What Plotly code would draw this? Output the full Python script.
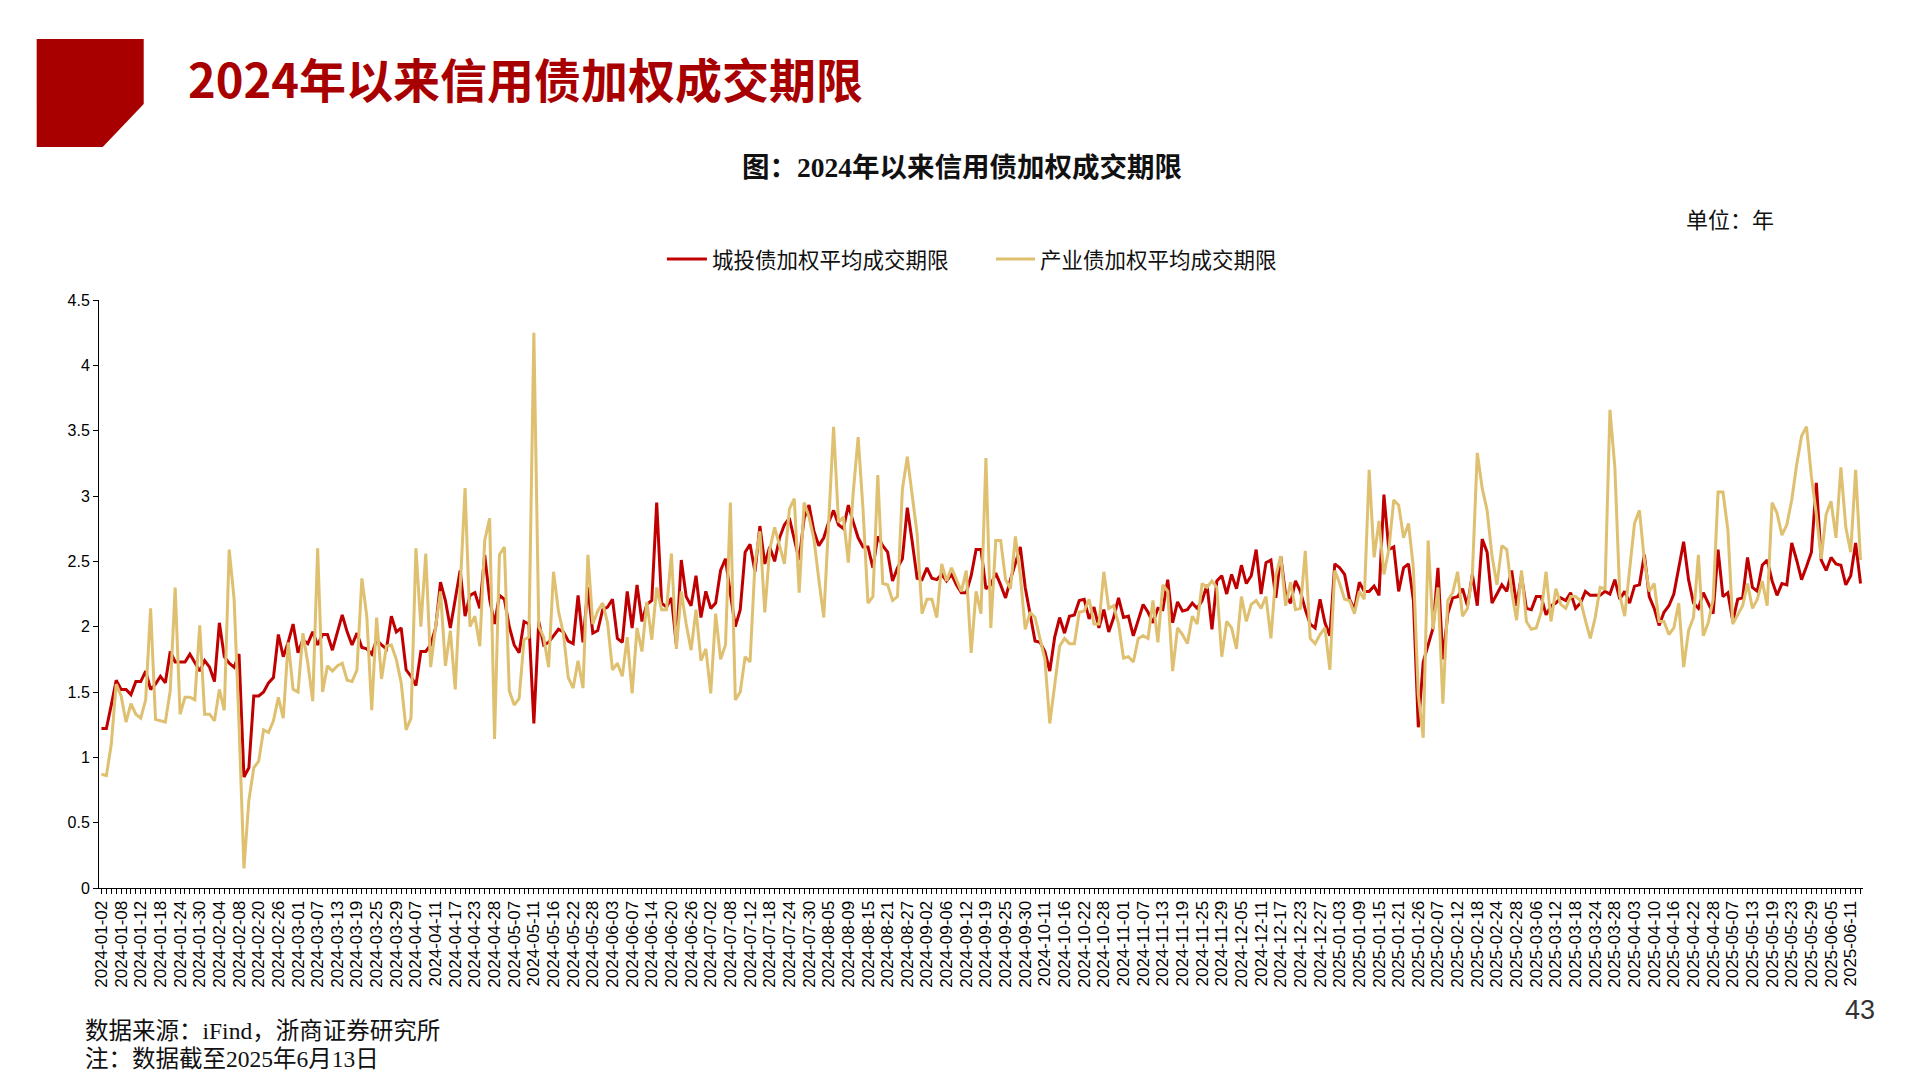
import datetime as dt
import plotly.graph_objects as go

# ---------------- categories: trading days 2024-01-02 .. 2025-06-13 ----------------
closed_weekdays = [
    "2024-01-01", "2024-02-12", "2024-02-13", "2024-02-14", "2024-02-15", "2024-02-16",
    "2024-04-04", "2024-04-05", "2024-05-01", "2024-05-02", "2024-05-03", "2024-06-10",
    "2024-09-16", "2024-09-17", "2024-10-01", "2024-10-02", "2024-10-03", "2024-10-04",
    "2024-10-07", "2025-01-01", "2025-01-28", "2025-01-29", "2025-01-30", "2025-01-31",
    "2025-02-03", "2025-02-04", "2025-04-04", "2025-05-01", "2025-05-02", "2025-05-05",
    "2025-06-02",
]
weekend_workdays = [
    "2024-02-04", "2024-02-18", "2024-04-07", "2024-04-28", "2024-05-11", "2024-09-14",
    "2024-09-29", "2024-10-12", "2025-01-26", "2025-02-08",
]

dates = []
d = dt.date(2024, 1, 2)
while d <= dt.date(2025, 6, 13):
    s = d.isoformat()
    if (d.weekday() < 5 and s not in closed_weekdays) or s in weekend_workdays:
        dates.append(s)
    d += dt.timedelta(days=1)

# ---------------- series values (years) ----------------
chengtou = [
    1.22, 1.22, 1.40, 1.59, 1.52, 1.52, 1.48, 1.58, 1.58, 1.66,
    1.52, 1.56, 1.62, 1.57, 1.81, 1.73, 1.73, 1.73, 1.79, 1.73,
    1.66, 1.74, 1.69, 1.58, 2.03, 1.77, 1.72, 1.69, 1.79, 0.85,
    0.92, 1.47, 1.47, 1.50, 1.57, 1.61, 1.94, 1.77, 1.88, 2.02,
    1.80, 1.90, 1.87, 1.96, 1.86, 1.94, 1.94, 1.82, 1.96, 2.09,
    1.96, 1.86, 1.95, 1.84, 1.83, 1.79, 1.90, 1.86, 1.83, 2.08,
    1.96, 1.99, 1.67, 1.62, 1.55, 1.81, 1.81, 1.86, 1.99, 2.34,
    2.20, 1.99, 2.21, 2.43, 2.08, 2.24, 2.26, 2.14, 2.55, 2.21,
    2.02, 2.24, 2.21, 2.00, 1.86, 1.80, 2.04, 2.02, 1.26, 2.04,
    1.86, 1.88, 1.93, 1.98, 1.96, 1.89, 1.87, 2.24, 1.88, 2.30,
    1.95, 1.97, 2.13, 2.15, 2.21, 1.91, 1.88, 2.27, 1.99, 2.32,
    2.04, 2.17, 2.20, 2.95, 2.18, 2.15, 2.22, 1.86, 2.51, 2.23,
    2.16, 2.39, 2.07, 2.27, 2.14, 2.18, 2.43, 2.52, 2.25, 2.00,
    2.13, 2.57, 2.63, 2.42, 2.77, 2.48, 2.61, 2.50, 2.68, 2.78,
    2.83, 2.68, 2.51, 2.83, 2.93, 2.73, 2.62, 2.68, 2.80, 2.89,
    2.78, 2.75, 2.93, 2.80, 2.68, 2.61, 2.61, 2.45, 2.69, 2.62,
    2.57, 2.35, 2.45, 2.52, 2.91, 2.65, 2.37, 2.36, 2.45, 2.37,
    2.36, 2.40, 2.35, 2.40, 2.32, 2.26, 2.26, 2.39, 2.59, 2.59,
    2.29, 2.32, 2.41, 2.32, 2.22, 2.36, 2.49, 2.61, 2.30, 2.10,
    1.89, 1.88, 1.81, 1.66, 1.92, 2.07, 1.95, 2.08, 2.09, 2.20,
    2.21, 2.06, 2.15, 1.99, 2.13, 1.96, 2.07, 2.22, 2.07, 2.08,
    1.93, 2.05, 2.17, 2.11, 2.03, 2.14, 2.13, 2.36, 2.03, 2.19,
    2.12, 2.13, 2.18, 2.14, 2.20, 2.32, 1.98, 2.35, 2.39, 2.25,
    2.40, 2.29, 2.47, 2.33, 2.39, 2.59, 2.25, 2.49, 2.51, 2.22,
    2.54, 2.24, 2.18, 2.35, 2.27, 2.13, 2.02, 1.99, 2.21, 2.03,
    1.93, 2.48, 2.45, 2.40, 2.21, 2.13, 2.34, 2.27, 2.27, 2.31,
    2.24, 3.01, 2.59, 2.61, 2.27, 2.45, 2.48, 2.20, 1.23, 1.73,
    1.86, 1.99, 2.45, 1.75, 2.10, 2.22, 2.23, 2.29, 2.16, 2.40,
    2.16, 2.67, 2.57, 2.18, 2.25, 2.32, 2.27, 2.43, 2.16, 2.39,
    2.14, 2.13, 2.23, 2.23, 2.09, 2.16, 2.18, 2.22, 2.20, 2.26,
    2.14, 2.18, 2.27, 2.24, 2.24, 2.24, 2.27, 2.25, 2.36, 2.21,
    2.27, 2.18, 2.31, 2.32, 2.55, 2.23, 2.14, 2.01, 2.11, 2.16,
    2.25, 2.45, 2.65, 2.36, 2.18, 2.14, 2.26, 2.18, 2.10, 2.59,
    2.23, 2.26, 2.04, 2.21, 2.22, 2.53, 2.30, 2.27, 2.47, 2.51,
    2.35, 2.24, 2.33, 2.32, 2.64, 2.51, 2.36, 2.46, 2.57, 3.10,
    2.51, 2.43, 2.53, 2.48, 2.47, 2.32, 2.39, 2.64, 2.33,
]

chanye = [
    0.87, 0.86, 1.10, 1.56, 1.47, 1.27, 1.41, 1.33, 1.30, 1.44,
    2.14, 1.29, 1.28, 1.27, 1.51, 2.30, 1.33, 1.46, 1.46, 1.44,
    2.01, 1.33, 1.33, 1.28, 1.52, 1.36, 2.59, 2.21, 1.25, 0.15,
    0.67, 0.92, 0.97, 1.21, 1.19, 1.28, 1.46, 1.30, 1.88, 1.52,
    1.50, 1.95, 1.72, 1.43, 2.60, 1.50, 1.70, 1.66, 1.70, 1.72,
    1.59, 1.58, 1.67, 2.37, 2.08, 1.36, 2.07, 1.60, 1.85, 1.86,
    1.75, 1.57, 1.21, 1.30, 2.60, 2.00, 2.56, 1.69, 2.00, 2.27,
    1.70, 1.97, 1.52, 2.30, 3.06, 2.00, 2.08, 1.85, 2.66, 2.83,
    1.14, 2.55, 2.61, 1.51, 1.40, 1.45, 1.90, 1.92, 4.25, 2.00,
    1.92, 1.69, 2.42, 2.12, 1.95, 1.61, 1.53, 1.74, 1.53, 2.55,
    2.02, 2.12, 2.18, 2.03, 1.67, 1.72, 1.62, 1.92, 1.49, 1.99,
    1.81, 2.19, 1.90, 2.30, 2.13, 2.13, 2.56, 1.83, 2.27, 2.02,
    1.82, 2.13, 1.74, 1.83, 1.49, 2.10, 1.75, 1.86, 2.95, 1.44,
    1.50, 1.77, 1.73, 2.48, 2.73, 2.11, 2.59, 2.76, 2.62, 2.48,
    2.90, 2.98, 2.26, 2.95, 2.84, 2.67, 2.36, 2.07, 2.80, 3.53,
    2.80, 2.84, 2.49, 3.03, 3.45, 2.89, 2.18, 2.23, 3.16, 2.33,
    2.32, 2.20, 2.23, 3.05, 3.30, 3.00, 2.71, 2.10, 2.21, 2.21,
    2.07, 2.48, 2.35, 2.45, 2.36, 2.27, 2.43, 1.80, 2.27, 2.10,
    3.29, 1.99, 2.66, 2.66, 2.36, 2.29, 2.69, 2.39, 1.98, 2.11,
    2.07, 1.92, 1.75, 1.26, 1.55, 1.85, 1.91, 1.87, 1.87, 2.11,
    2.12, 2.21, 2.02, 2.02, 2.42, 2.14, 2.16, 2.02, 1.76, 1.77,
    1.73, 1.91, 1.93, 1.91, 2.20, 1.88, 2.32, 2.27, 1.66, 1.99,
    1.94, 1.87, 2.08, 2.02, 2.33, 2.30, 2.35, 2.30, 1.77, 2.04,
    1.99, 1.83, 2.23, 2.04, 2.17, 2.20, 2.14, 2.23, 1.91, 2.39,
    2.54, 2.16, 2.34, 2.13, 2.14, 2.58, 1.91, 1.87, 1.94, 1.99,
    1.67, 2.43, 2.33, 2.21, 2.20, 2.10, 2.27, 2.21, 3.20, 2.53,
    2.81, 2.40, 2.59, 2.97, 2.93, 2.68, 2.79, 2.45, 1.48, 1.15,
    2.66, 1.98, 2.30, 1.41, 2.20, 2.26, 2.42, 2.08, 2.14, 2.40,
    3.33, 3.06, 2.89, 2.54, 2.32, 2.62, 2.59, 2.27, 2.05, 2.43,
    2.04, 1.98, 1.99, 2.11, 2.42, 2.04, 2.29, 2.17, 2.14, 2.23,
    2.23, 2.20, 2.05, 1.91, 2.07, 2.30, 2.29, 3.66, 3.22, 2.24,
    2.08, 2.45, 2.79, 2.89, 2.51, 2.27, 2.33, 2.04, 2.04, 1.94,
    1.99, 2.18, 1.69, 1.97, 2.07, 2.55, 1.93, 2.03, 2.21, 3.03,
    3.03, 2.74, 2.02, 2.09, 2.16, 2.33, 2.14, 2.21, 2.35, 2.16,
    2.95, 2.87, 2.70, 2.78, 2.97, 3.24, 3.46, 3.53, 3.15, 2.86,
    2.52, 2.86, 2.96, 2.68, 3.22, 2.76, 2.57, 3.20, 2.51,
]

assert len(dates) == len(chengtou) == len(chanye), (len(dates), len(chengtou), len(chanye))

tick_labels = [s if i % 4 == 0 else "" for i, s in enumerate(dates)]
y_ticks = [0, 0.5, 1, 1.5, 2, 2.5, 3, 3.5, 4, 4.5]

series_names = ["城投债加权平均成交期限", "产业债加权平均成交期限"]
RED = "#C00000"
GOLD = "#DEC070"

# ---------------- layout geometry (page pixels) ----------------
W, H = 1920, 1080
ML, MR, MT, MB = 99.3, 57.3, 300, 192
PW, PH = W - ML - MR, H - MT - MB


def px(x):
    return (x - ML) / PW


def py(y):
    return (H - MB - y) / PH


fig = go.Figure()
fig.add_trace(go.Scatter(x=dates, y=chengtou, mode="lines", name=series_names[0],
                         line=dict(color=RED, width=3), showlegend=False))
fig.add_trace(go.Scatter(x=dates, y=chanye, mode="lines", name=series_names[1],
                         line=dict(color=GOLD, width=3), showlegend=False))

SANS = "Liberation Sans, Arial, sans-serif"
CJK = "Noto Sans CJK SC, sans-serif"
SERIF_CJK = "Liberation Serif, Noto Sans CJK SC, serif"

fig.update_layout(
    width=W, height=H,
    margin=dict(l=ML, r=MR, t=MT, b=MB, autoexpand=False),
    paper_bgcolor="white", plot_bgcolor="white",
    showlegend=False,
    xaxis=dict(
        type="category", range=[-0.5, len(dates) - 0.5],
        tickmode="array", tickvals=dates, ticktext=tick_labels,
        tickangle=-90, ticks="outside", ticklen=5, tickwidth=1, tickcolor="black",
        showline=True, linecolor="black", linewidth=1,
        showgrid=False, zeroline=False, automargin=False,
        tickfont=dict(family=SANS, size=17, color="black"),
    ),
    yaxis=dict(
        range=[0, 4.5], tickmode="array", tickvals=y_ticks,
        ticks="outside", ticklen=5, tickwidth=1, tickcolor="black",
        showline=True, linecolor="black", linewidth=1,
        showgrid=False, zeroline=False, automargin=False,
        tickfont=dict(family=SANS, size=16, color="black"),
    ),
)

# red corner block
blk = [(37, 39), (144, 39), (144, 104), (103, 147), (37, 147)]
path = "M " + " L ".join(f"{px(a):.5f},{py(b):.5f}" for a, b in blk) + " Z"
fig.add_shape(type="path", xref="paper", yref="paper", path=path,
              fillcolor="#A80000", line=dict(width=0))

ann = []
ann.append(dict(x=px(186), y=py(78), text="<b>2024年以来信用债加权成交期限</b>",
                xanchor="left", yanchor="middle",
                font=dict(family=CJK, size=47, color="#A80000")))
ann.append(dict(x=px(962), y=py(168), text="<b>图：2024年以来信用债加权成交期限</b>",
                xanchor="center", yanchor="middle",
                font=dict(family=SERIF_CJK, size=27.5, color="#111111")))
ann.append(dict(x=px(1684), y=py(218), text="单位：年",
                xanchor="left", yanchor="middle",
                font=dict(family=CJK, size=22, color="#111111")))
# legend
for x0, x1, col, name in [(667, 707, RED, series_names[0]), (996, 1035, GOLD, series_names[1])]:
    fig.add_shape(type="line", xref="paper", yref="paper",
                  x0=px(x0), x1=px(x1), y0=py(259), y1=py(259),
                  line=dict(color=col, width=3))
    ann.append(dict(x=px(x1 + 3), y=py(258), text=name, xanchor="left", yanchor="middle",
                    font=dict(family=CJK, size=21.5, color="#111111")))
# footer
ann.append(dict(x=px(83), y=py(1031), text="数据来源：iFind，浙商证券研究所",
                xanchor="left", yanchor="middle",
                font=dict(family=SERIF_CJK, size=23.5, color="#111111")))
ann.append(dict(x=px(83), y=py(1059), text="注：数据截至2025年6月13日",
                xanchor="left", yanchor="middle",
                font=dict(family=SERIF_CJK, size=23.5, color="#111111")))
ann.append(dict(x=px(1860), y=py(1010), text="43",
                xanchor="center", yanchor="middle",
                font=dict(family=SANS, size=27, color="#333333")))

for a in ann:
    a.update(xref="paper", yref="paper", showarrow=False)
fig.update_layout(annotations=ann)

fig.write_html("out.html", include_plotlyjs=True, full_html=True,
               config={"displayModeBar": False},
               post_script="document.body.style.margin='0';document.body.style.overflow='hidden';")
